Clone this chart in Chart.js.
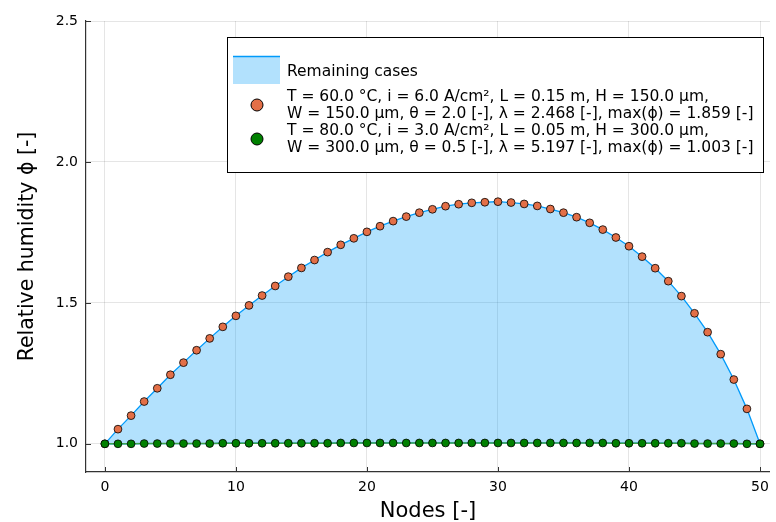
<!DOCTYPE html>
<html>
<head>
<meta charset="utf-8">
<script src="https://cdn.jsdelivr.net/npm/chart.js@4/dist/chart.umd.min.js"></script>
<style>
  html, body { margin: 0; padding: 0; background: #ffffff; }
  #wrap { width: 776px; height: 522px; }
</style>
</head>
<body>
<div id="wrap"><canvas id="c" width="776" height="522"></canvas></div>
<script>
const nodes = [0,1,2,3,4,5,6,7,8,9,10,11,12,13,14,15,16,17,18,19,20,21,22,23,24,25,26,27,28,29,30,31,32,33,34,35,36,37,38,39,40,41,42,43,44,45,46,47,48,49,50];

const caseHigh = [1.000,1.052,1.100,1.150,1.197,1.245,1.288,1.332,1.374,1.415,1.454,1.491,1.526,1.560,1.593,1.624,1.652,1.680,1.706,1.729,1.752,1.772,1.790,1.806,1.820,1.832,1.843,1.850,1.855,1.857,1.859,1.856,1.851,1.844,1.833,1.820,1.804,1.784,1.760,1.732,1.701,1.664,1.623,1.577,1.524,1.463,1.396,1.318,1.228,1.124,1.000];

const caseLow = [1.000,1.000,1.000,1.001,1.001,1.001,1.001,1.001,1.001,1.002,1.002,1.002,1.002,1.002,1.002,1.002,1.002,1.002,1.003,1.003,1.003,1.003,1.003,1.003,1.003,1.003,1.003,1.003,1.003,1.003,1.003,1.003,1.003,1.003,1.003,1.003,1.003,1.003,1.003,1.002,1.002,1.002,1.002,1.002,1.002,1.001,1.001,1.001,1.001,1.000,1.000];

// remaining cases envelope (max / min over all other cases)
const remainingUpper = caseHigh;
const remainingLower = caseLow;

const xTicks = [0,10,20,30,40,50];
const yTicks = [1.0,1.5,2.0,2.5];

const legendRibbon = "Remaining cases";
const legendHigh = ["T = 60.0 °C, i = 6.0 A/cm², L = 0.15 m, H = 150.0 µm,",
                    "W = 150.0 µm, θ = 2.0 [-], λ = 2.468 [-], max(ϕ) = 1.859 [-]"];
const legendLow  = ["T = 80.0 °C, i = 3.0 A/cm², L = 0.05 m, H = 300.0 µm,",
                    "W = 300.0 µm, θ = 0.5 [-], λ = 5.197 [-], max(ϕ) = 1.003 [-]"];

const FONT = "'DejaVu Sans', sans-serif";
const BLUE = '#009AFA';
const ORANGE = '#E36F47';
const GREEN_M = '#008000';
const GREEN_L = '#3DA44D';

function pts(arr){ return nodes.map((n,i)=>({x:n, y:arr[i]})); }

const innerTicks = {
  id: 'innerTicks',
  afterDraw(chart) {
    const ctx = chart.ctx, xs = chart.scales.x, ys = chart.scales.y, a = chart.chartArea;
    ctx.save();
    ctx.strokeStyle = '#333';
    ctx.lineWidth = 1;
    ctx.beginPath();
    xTicks.forEach(v => { const px = Math.round(xs.getPixelForValue(v)) + 0.5; ctx.moveTo(px, a.bottom); ctx.lineTo(px, a.bottom - 5); });
    yTicks.forEach(v => { const py = Math.round(ys.getPixelForValue(v)) + 0.5; ctx.moveTo(a.left, py); ctx.lineTo(a.left + 5, py); });
    ctx.stroke();
    ctx.restore();
  }
};

const legendBox = {
  id: 'legendBox',
  afterDraw(chart) {
    const ctx = chart.ctx;
    ctx.save();
    const bx = 227.5, by = 37.5, bw = 536, bh = 135;
    ctx.fillStyle = '#fff';
    ctx.fillRect(bx, by, bw, bh);
    ctx.strokeStyle = '#000';
    ctx.lineWidth = 1;
    ctx.strokeRect(bx, by, bw, bh);
    // ribbon symbol
    ctx.fillStyle = 'rgba(0,154,250,0.3)';
    ctx.fillRect(233, 56, 47, 28);
    ctx.strokeStyle = BLUE; ctx.lineWidth = 1.5;
    ctx.beginPath(); ctx.moveTo(233, 56.5); ctx.lineTo(280, 56.5); ctx.stroke();
    ctx.font = '15.5px ' + FONT;
    ctx.fillStyle = '#000';
    ctx.textBaseline = 'middle';
    ctx.textAlign = 'left';
    ctx.fillText(legendRibbon, 287, 71.5);
    function marker(x, y, col) {
      ctx.beginPath(); ctx.arc(x, y, 6, 0, Math.PI*2);
      ctx.fillStyle = col; ctx.fill();
      ctx.strokeStyle = '#000'; ctx.lineWidth = 1; ctx.stroke();
    }
    marker(257, 105, ORANGE);
    marker(257, 139, GREEN_M);
    ctx.fillStyle = '#000';
    ctx.fillText(legendHigh[0], 287, 96.5);
    ctx.fillText(legendHigh[1], 287, 113.5);
    ctx.fillText(legendLow[0], 287, 130.5);
    ctx.fillText(legendLow[1], 287, 147.5);
    ctx.restore();
  }
};

new Chart(document.getElementById('c'), {
  type: 'line',
  data: {
    datasets: [
      { label: 'upper', data: pts(remainingUpper), borderColor: BLUE, borderWidth: 1.3,
        backgroundColor: 'rgba(0,154,250,0.3)', fill: '+1', pointRadius: 0, order: 5 },
      { label: 'lower', data: pts(remainingLower), borderColor: BLUE, borderWidth: 1.3,
        fill: false, pointRadius: 0, order: 4 },
      { label: 'low case', data: pts(caseLow), borderColor: GREEN_L, borderWidth: 1.5,
        pointRadius: 0, fill: false, order: 3 },
      { label: 'high pts', data: pts(caseHigh), showLine: false, pointRadius: 3.9,
        pointBackgroundColor: ORANGE, pointBorderColor: '#000', pointBorderWidth: 0.8, order: 2 },
      { label: 'low pts', data: pts(caseLow), showLine: false, pointRadius: 3.9,
        pointBackgroundColor: GREEN_M, pointBorderColor: '#000', pointBorderWidth: 0.8, order: 1 }
    ]
  },
  options: {
    responsive: false,
    animation: false,
    devicePixelRatio: 1,
    layout: { padding: { left: 0, right: 0, top: 21, bottom: 0 } },
    plugins: { legend: { display: false }, tooltip: { enabled: false } },
    elements: { line: { tension: 0 } },
    scales: {
      x: {
        type: 'linear', min: -1.44, max: 50.76,
        afterFit(s) { s.height = 50; },
        afterBuildTicks(s) { s.ticks = xTicks.map(v => ({ value: v })); },
        grid: { color: 'rgba(0,0,0,0.1)', lineWidth: 1, drawTicks: false },
        border: { display: true, color: '#333', width: 1.2 },
        ticks: { font: { family: FONT, size: 14 }, color: '#000', padding: 7, maxRotation: 0,
                 callback: v => String(v) },
        title: { display: true, text: 'Nodes [-]', color: '#000',
                 font: { family: FONT, size: 21, lineHeight: 1 }, padding: { top: 0, bottom: 0 } }
      },
      y: {
        type: 'linear', min: 0.9, max: 2.5,
        afterFit(s) { s.width = 86; },
        afterBuildTicks(s) { s.ticks = yTicks.map(v => ({ value: v })); },
        grid: { color: 'rgba(0,0,0,0.1)', lineWidth: 1, drawTicks: false },
        border: { display: true, color: '#333', width: 1.2 },
        ticks: { font: { family: FONT, size: 14 }, color: '#000', padding: 8,
                 callback: v => Number(v).toFixed(1) },
        title: { display: true, text: 'Relative humidity ϕ [-]', color: '#000',
                 font: { family: FONT, size: 20.5, lineHeight: 1 }, padding: { top: 17.5, bottom: 0 } }
      }
    }
  },
  plugins: [innerTicks, legendBox]
});
</script>
</body>
</html>
